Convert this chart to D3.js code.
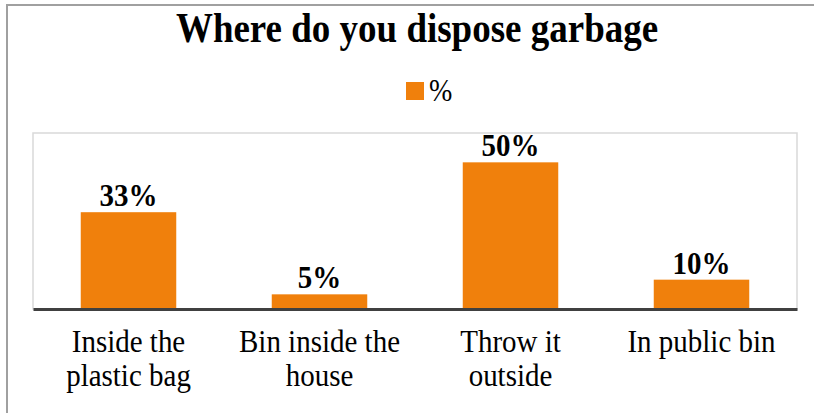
<!DOCTYPE html>
<html><head><meta charset="utf-8">
<script src="https://cdn.jsdelivr.net/npm/d3@7"></script>
<style>html,body{margin:0;padding:0;background:#fff;}</style>
</head><body>
<svg id="chart" width="814" height="413"></svg>
<script>
const title = "Where do you dispose garbage";
const seriesName = "%";
const categories = [["Inside the","plastic bag"],["Bin inside the","house"],["Throw it","outside"],["In public bin"]];
const values = [33, 5, 50, 10];
const labels = ["33%", "5%", "50%", "10%"];
const yDomain = [0, 60];

const svg = d3.select("#chart");
const serif = "'Liberation Serif','Times New Roman',serif";
const orange = "#f0800c";
const SY = 1.12; // vertical stretch of text as in reference

function stretchedText(parent, x0, y0, str, size, bold, anchor) {
  return parent.append("text")
    .attr("transform", `translate(${x0},${y0}) scale(1,${SY})`)
    .attr("text-anchor", anchor || "middle")
    .attr("font-family", serif).attr("font-weight", bold ? "bold" : "normal")
    .attr("font-size", size).attr("fill", "#000").text(str);
}

// outer frame
svg.append("rect").attr("x",7).attr("y",5).attr("width",830).attr("height",430)
  .attr("fill","none").attr("stroke","#a0a0a0").attr("stroke-width",2);

const plot = {left:33, top:133, right:797, bottom:309};
svg.append("rect").attr("x",plot.left).attr("y",plot.top)
  .attr("width",plot.right-plot.left).attr("height",plot.bottom-plot.top)
  .attr("fill","none").attr("stroke","#d9d9d9").attr("stroke-width",1.5);

const x = d3.scaleBand().domain(d3.range(values.length)).range([plot.left, plot.right]).paddingInner(0.5).paddingOuter(0.25);
const y = d3.scaleLinear().domain(yDomain).range([plot.bottom, plot.top]);

svg.append("g").selectAll("rect").data(values).join("rect")
  .attr("x",(d,i)=>x(i)).attr("y",d=>y(d))
  .attr("width",x.bandwidth()).attr("height",d=>y(0)-y(d))
  .attr("fill",orange);

// baseline axis
const axis = d3.axisBottom(x).tickSize(0).tickFormat("");
const ag = svg.append("g").attr("transform",`translate(0,${y(0)})`).call(axis);
ag.select(".domain").attr("stroke","#404040").attr("stroke-width",3);

// value labels
const vg = svg.append("g");
values.forEach((d,i)=>{
  stretchedText(vg, x(i)+x.bandwidth()/2, y(d)-6, labels[i], 29, true);
});

// category labels
const cg = svg.append("g");
categories.forEach((lines,i)=>{
  lines.forEach((line,j)=>{
    stretchedText(cg, x(i)+x.bandwidth()/2, y(0)+43+j*34, line, 29, false);
  });
});

// title
stretchedText(svg, 417, 42, title, 37, true);

// legend
svg.append("rect").attr("x",406).attr("y",82).attr("width",18).attr("height",18).attr("fill",orange);
stretchedText(svg, 429, 101, seriesName, 28, false, "start");
</script>
</body></html>
